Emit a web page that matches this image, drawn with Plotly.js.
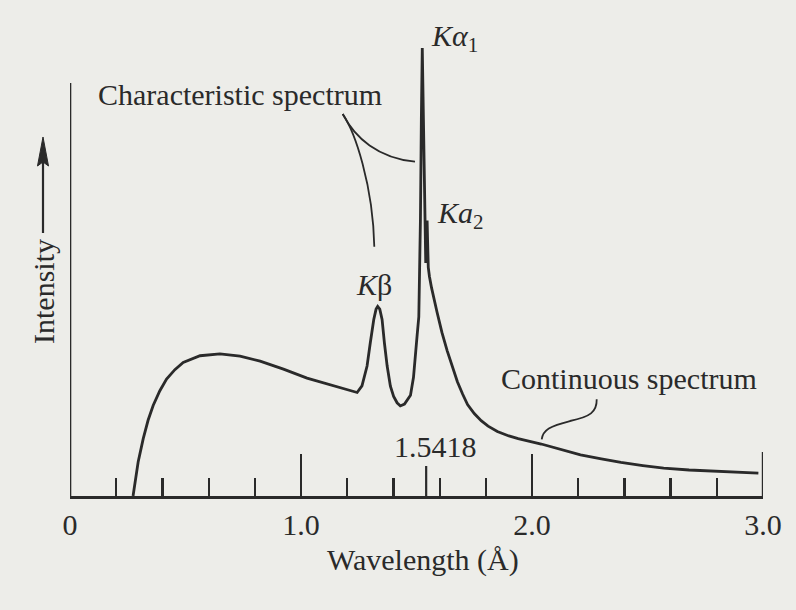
<!DOCTYPE html>
<html>
<head>
<meta charset="utf-8">
<script src="https://cdn.plot.ly/plotly-3.0.1.min.js"></script>
<style>
  html, body { margin: 0; padding: 0; background: #edede9; }
  #chart { width: 796px; height: 610px; }
</style>
</head>
<body>
<div id="chart"></div>
<script>
// X-ray tube emission spectrum: continuous (bremsstrahlung) background
// with the characteristic K-beta, K-alpha1 and K-alpha2 lines.
const wavelength = [
  0.273, 0.281, 0.295, 0.317, 0.338, 0.360, 0.389, 0.418, 0.454, 0.490,
  0.563, 0.649, 0.736, 0.823, 0.924, 1.026, 1.141, 1.243,
  1.264, 1.286, 1.300, 1.315, 1.325, 1.332, 1.341, 1.351, 1.361, 1.373,
  1.387, 1.401, 1.416, 1.430, 1.448, 1.474, 1.487, 1.495, 1.503, 1.510,
  1.517, 1.521, 1.525, 1.530, 1.536, 1.540, 1.5445, 1.546, 1.548, 1.551,
  1.556, 1.565, 1.589, 1.610, 1.633, 1.655, 1.677, 1.700, 1.721, 1.750,
  1.780, 1.810, 1.850, 1.900, 1.940, 2.040, 2.120, 2.210, 2.300, 2.385,
  2.480, 2.570, 2.680, 2.790, 2.890, 2.980
];
const intensity = [
  0.0, 3.1, 7.6, 12.8, 16.9, 20.2, 23.5, 26.1, 28.2, 29.8,
  31.3, 31.7, 31.2, 30.1, 28.3, 26.3, 24.6, 23.1,
  24.6, 29.0, 34.2, 39.4, 41.7, 42.3, 41.7, 39.4, 34.2, 29.0,
  24.5, 22.2, 20.8, 20.1, 20.5, 22.5, 26.5, 32.0, 36.0, 40.0,
  61.6, 84.0, 100.0, 84.0, 62.0, 52.0, 58.0, 61.5, 57.0, 51.0,
  49.0, 46.5, 41.0, 36.5, 32.4, 28.8, 25.5, 22.7, 20.4, 18.4,
  16.8, 15.6, 14.4, 13.4, 12.8, 11.6, 10.4, 9.2, 8.3, 7.5,
  6.8, 6.2, 5.8, 5.5, 5.3, 5.1
];

// Axis ticks
const majorTicks = [0, 1, 2, 3];
const majorTickText = ['0', '1.0', '2.0', '3.0'];
const minorTicks = [0.2, 0.4, 0.6, 0.8, 1.2, 1.4, 1.6, 1.8, 2.2, 2.4, 2.6, 2.8];
const refWavelength = [1.5418];
const refWavelengthText = ['1.5418'];

// Page geometry (pixels)
const FIG_W = 796, FIG_H = 610;
const M = { l: 70, r: 33, t: 30, b: 114 };
const plotW = FIG_W - M.l - M.r;
const plotH = FIG_H - M.t - M.b;
const paperX = p => (p - M.l) / plotW;
const paperY = p => (FIG_H - M.b - p) / plotH;
// Build an SVG path in paper units; one command per point pair.
const pathFrom = segs => segs.map(s => {
  if (s.cmd === 'Z') return 'Z';
  const pts = s.pts.map(([x, y]) => paperX(x).toFixed(5) + ',' + paperY(y).toFixed(5));
  return s.cmd + pts.join(' ');
}).join(' ');

const INK = '#2a2a2a';
const FONT = 'Liberation Serif, Times New Roman, serif';
const textFont = { family: FONT, size: 30, color: INK };

const traces = [{
  type: 'scatter',
  mode: 'lines',
  x: wavelength,
  y: intensity,
  line: { color: INK, width: 2.8 },
  hoverinfo: 'skip'
}];

const label = (text, x, y, xanchor, extra) => Object.assign({
  text: text, xref: 'paper', yref: 'paper',
  x: paperX(x), y: paperY(y), xanchor: xanchor, yanchor: 'middle',
  showarrow: false, font: textFont
}, extra || {});

const annotations = [
  label('<i>Kα</i><sub>1</sub>', 429, 38, 'left'),
  label('<i>Ka</i><sub>2</sub>', 435, 215, 'left'),
  label('<i>K</i>β', 374, 284, 'center'),
  label('Characteristic spectrum', 96, 94, 'left'),
  label('Continuous spectrum', 499, 378, 'left'),
  label(refWavelengthText[0], 435, 446, 'center'),
  label('Wavelength (Å)', 423, 560, 'center'),
  label('Intensity', 43, 292, 'center', { textangle: -90 })
];

const shapes = [
  // vertical intensity axis
  { type: 'line', xref: 'x', yref: 'paper', x0: 0, x1: 0, y0: 0, y1: paperY(83),
    line: { color: INK, width: 2.6 } },
  // closing tick at the right end of the wavelength axis
  { type: 'line', xref: 'x', yref: 'paper', x0: majorTicks[3], x1: majorTicks[3],
    y0: 0, y1: paperY(FIG_H - M.b - 44), line: { color: INK, width: 2.4 } },
  // marker tick for the Cu K-alpha weighted wavelength
  { type: 'line', xref: 'x', yref: 'paper', x0: refWavelength[0], x1: refWavelength[0],
    y0: 0, y1: paperY(FIG_H - M.b - 30), line: { color: INK, width: 2.2 } },
  // leader lines from "Characteristic spectrum"
  { type: 'path', xref: 'paper', yref: 'paper', line: { color: INK, width: 1.8 },
    path: pathFrom([{ cmd: 'M', pts: [[342.7, 114]] },
                    { cmd: 'C', pts: [[355, 138], [378, 158], [415, 161.7]] }]) },
  { type: 'path', xref: 'paper', yref: 'paper', line: { color: INK, width: 1.8 },
    path: pathFrom([{ cmd: 'M', pts: [[342.7, 114]] },
                    { cmd: 'C', pts: [[355, 132], [373, 185], [374.3, 246.7]] }]) },
  // leader line from "Continuous spectrum"
  { type: 'path', xref: 'paper', yref: 'paper', line: { color: INK, width: 1.8 },
    path: pathFrom([{ cmd: 'M', pts: [[596.7, 399.3]] },
                    { cmd: 'C', pts: [[597, 412], [590, 417], [570, 421]] },
                    { cmd: 'C', pts: [[550, 426], [543, 430], [541.7, 439.3]] }]) },
  // "Intensity" arrow: shaft and head
  { type: 'line', xref: 'paper', yref: 'paper', x0: paperX(43), x1: paperX(43),
    y0: paperY(233), y1: paperY(160), line: { color: INK, width: 2.2 } },
  { type: 'path', xref: 'paper', yref: 'paper', fillcolor: INK, line: { color: INK, width: 1 },
    path: pathFrom([{ cmd: 'M', pts: [[43, 137]] },
                    { cmd: 'L', pts: [[48.5, 166]] },
                    { cmd: 'L', pts: [[43, 162]] },
                    { cmd: 'L', pts: [[37.5, 166]] },
                    { cmd: 'Z' }]) }
];

const layout = {
  width: FIG_W, height: FIG_H,
  margin: M,
  paper_bgcolor: '#edede9',
  plot_bgcolor: 'rgba(0,0,0,0)',
  showlegend: false,
  hovermode: false,
  xaxis: {
    range: [0, 3],
    showgrid: false, zeroline: false,
    showline: true, linecolor: INK, linewidth: 2.6,
    tickmode: 'array', tickvals: majorTicks, ticktext: majorTickText,
    ticks: 'inside', ticklen: 42, tickwidth: 2.2, tickcolor: INK,
    ticklabelstandoff: 0,
    tickfont: textFont,
    minor: { tickmode: 'array', tickvals: minorTicks, ticks: 'inside',
             ticklen: 18.5, tickwidth: 2.2, tickcolor: INK }
  },
  yaxis: {
    range: [0, 104],
    visible: false
  },
  annotations: annotations,
  shapes: shapes
};

Plotly.newPlot('chart', traces, layout, { displayModeBar: false, staticPlot: true });
</script>
</body>
</html>
